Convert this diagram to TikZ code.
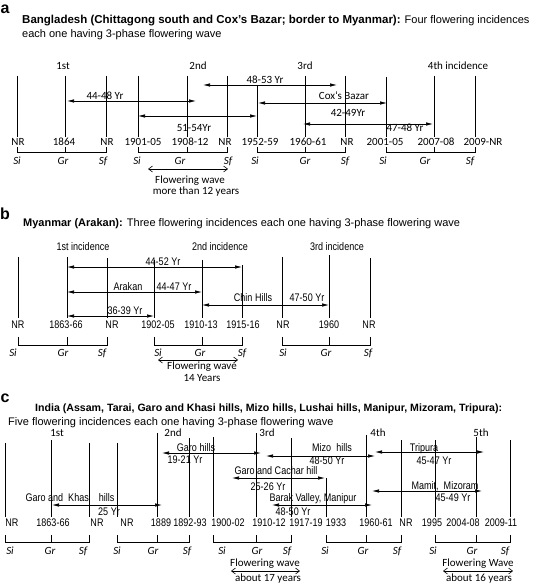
\documentclass[tikz,border=0pt]{standalone}
\usepackage{fontspec}
\setmainfont{Liberation Sans}
\newfontfamily\calfont{Carlito}
\newfontfamily\narrowfont[FakeStretch=0.82]{Liberation Sans}
\usetikzlibrary{arrows.meta}
\begin{document}
\begin{tikzpicture}[x=1pt,y=-1pt,
  vl/.style={line width=0.7pt},
  arr/.style={line width=0.7pt,{Latex[length=7pt,width=3.5pt]}-{Latex[length=7pt,width=3.5pt]}},
  wave/.style={line width=0.6pt,{Straight Barb[length=4pt,width=6pt]}-{Straight Barb[length=4pt,width=6pt]}},
  lab/.style={font=\calfont\fontsize{11}{12}\selectfont,inner sep=0pt,text height=7pt,text depth=0pt},
  nlab/.style={font=\narrowfont\fontsize{11}{12}\selectfont,inner sep=0pt,text height=7pt,text depth=0pt},
  ital/.style={font=\calfont\itshape\fontsize{11}{12}\selectfont,inner sep=0pt,text height=7pt,text depth=0pt},
  ttl/.style={font=\fontsize{11}{13}\selectfont,inner sep=0pt,anchor=west,text height=7.5pt,text depth=0pt},
  pl/.style={font=\bfseries\fontsize{16}{16}\selectfont,inner sep=0pt}]
\useasboundingbox[fill=white] (0,0) rectangle (550,585);

% ================= panel a =================
\node[pl] (pa) at (5,9) {a};
\node[ttl] (ta1) at (22,20) {{\bfseries\fontsize{11.5}{13}\selectfont Bangladesh (Chittagong south and Cox’s Bazar; border to Myanmar):} Four flowering incidences};
\node[ttl] (ta2) at (22,34) {each one having 3-phase flowering wave};

\foreach \x/\t in {17/76,65/76,106/76,138/76,187/76,227/76,257/85,305/76,345/76,386/77,434/76,475/76}
  \draw[vl] (\x,\t) -- (\x,137);
\foreach \x/\s in {18/NR,64/1864,107/NR,143/1901-05,190/1908-12,225/NR,260/1952-59,308/1960-61,347/NR,385/2001-05,436/2007-08,483/2009-NR}
  \node[lab] at (\x,142) {\s};
\foreach \a/\b/\c in {17/65/106,138/187/227,257/305/345,386/434/475}{
  \draw[vl] (\a,147) -- (\a,152) -- (\c,152) -- (\c,147);
  \draw[vl] (\b,147) -- (\b,152);}
\foreach \x/\s in {17/Si,63/Gr,103/Sf,137/Si,180/Gr,228/Sf,255/Si,305/Gr,345/Sf,383/Si,425/Gr,470/Sf}
  \node[ital] at (\x,161) {\s};

\node[lab] at (63,66) {1st};
\node[lab] at (198,66) {2nd};
\node[lab] at (305,66) {3rd};
\node[lab] at (458,66) {4th incidence};

\draw[arr] (67,101) -- (196,101);
\node[lab] at (105,96) {44-48 Yr};
\draw[arr] (203,85) -- (337,85);
\node[lab] at (265,80) {48-53 Yr};
\draw[arr] (258,103) -- (387,103);
\node[lab] at (344,96) {Cox‘s Bazar};
\node[lab] at (348,113) {42-49Yr};
\draw[arr] (138,116) -- (257,116);
\node[lab] at (194,128) {51-54Yr};
\draw[arr] (303,124) -- (433,124);
\node[lab] at (405,128) {47-48 Yr};

\draw[wave] (148,169) -- (228,169);
\node[lab] at (190,180) {Flowering wave};
\node[lab] at (196,191) {more than 12 years};

% ================= panel b =================
\node[pl] (pb) at (5,214) {b};
\node[ttl] (tb1) at (23,223) {\textbf{Myanmar (Arakan):} Three flowering incidences each one having 3-phase flowering wave};

\foreach \x/\t in {18/257,67/257,107/258,154/260,202/260,242/265,282/257,329/255,370/258}
  \draw[vl] (\x,\t) -- (\x,318);
\foreach \x/\s in {18/NR,66/1863-66,112/NR,158/1902-05,201/1910-13,243/1915-16,283/NR,329/1960,369/NR}
  \node[nlab] at (\x,325) {\s};
\foreach \a/\b/\c in {18/67/107,154/202/242,282/329/370}{
  \draw[vl] (\a,337) -- (\a,345) -- (\c,345) -- (\c,337);
  \draw[vl] (\b,337) -- (\b,345);}
\foreach \x/\s in {13/Si,63/Gr,102/Sf,158/Si,200/Gr,242/Sf,283/Si,326/Gr,368/Sf}
  \node[ital] at (\x,353) {\s};

\node[nlab] at (83,247) {1st incidence};
\node[nlab] at (220,247) {2nd incidence};
\node[nlab] at (337,247) {3rd incidence};

\draw[arr] (67,267) -- (242,267);
\node[nlab] at (163,262) {44-52 Yr};
\draw[arr] (67,292) -- (202,292);
\node[nlab] at (128,287) {Arakan};
\node[nlab] at (174,287) {44-47 Yr};
\draw[arr] (202,305) -- (329,305);
\node[nlab] at (253,298) {Chin Hills};
\node[nlab] at (307,298) {47-50 Yr};
\draw[arr] (67,316) -- (154,316);
\node[nlab] at (125,311) {36-39 Yr};

\draw[wave] (158,360) -- (238,360);
\node[lab] at (202,366) {Flowering wave};
\node[lab] at (202,378) {14 Years};

% ================= panel c =================
\node[pl] (pc) at (5,398) {c};
\node[ttl] (tc1) at (35,408) {{\bfseries\fontsize{10.6}{13}\selectfont India (Assam, Tarai, Garo and Khasi hills, Mizo hills, Lushai hills, Manipur, Mizoram, Tripura):}};
\node[ttl] (tc2) at (8,422) {Five flowering incidences each one having 3-phase flowering wave};

\foreach \x/\t in {5/443,51/440,89/443,117/443,157/433,189/438,213/437,256/433,291/438,326/478,366/435,401/440,435/440,476/437,510/440}
  \draw[vl] (\x,\t) -- (\x,517);
\foreach \x/\s in {12/NR,53/1863-66,97/NR,127/NR,161/1889,190/1892-93,228/1900-02,269/1910-12,306/1917-19,336/1933,376/1960-61,406/NR,432/1995,463/2004-08,501/2009-11}
  \node[nlab] at (\x,523) {\s};
\foreach \a/\b/\c in {5/51/89,117/157/189,213/256/291,326/366/401,435/476/510}{
  \draw[vl] (\a,535) -- (\a,542) -- (\c,542) -- (\c,535);
  \draw[vl] (\b,535) -- (\b,542);}
\foreach \x/\s in {10/Si,50/Gr,83/Sf,117/Si,153/Gr,187/Sf,222/Si,257/Gr,287/Sf,325/Si,363/Gr,397/Sf,433/Si,472/Gr,505/Sf}
  \node[ital] at (\x,551) {\s};

\node[lab] at (57,433) {1st};
\node[lab] at (173,433) {2nd};
\node[lab] at (267,433) {3rd};
\node[lab] at (378,433) {4th};
\node[lab] at (481,433) {5th};

\draw[arr] (162,453) -- (261,453);
\node[nlab] at (196,448) {Garo hills};
\node[nlab] at (185,460) {19-21 Yr};
\draw[arr] (266,456) -- (375,456);
\node[nlab] at (332,448) {Mizo~ hills};
\node[nlab] at (327,461) {48-50 Yr};
\draw[arr] (375,452) -- (484,452);
\node[nlab] at (424,448) {Tripura};
\node[nlab] at (434,461) {45-47 Yr};
\draw[arr] (232,478) -- (325,478);
\node[nlab] at (276,471) {Garo and Cachar hill};
\node[nlab] at (268,487) {25-26 Yr};
\draw[arr] (272,505) -- (372,505);
\node[nlab] at (313,498) {Barak Valley, Manipur};
\node[nlab] at (293,512) {48-50 Yr};
\draw[arr] (372,491) -- (482,491);
\node[nlab] at (445,486) {Mamit,~ Mizoram};
\node[nlab] at (453,498) {45-49 Yr};
\draw[arr] (52,505) -- (162,505);
\node[nlab] at (70,498) {Garo and~ Khas~~~ hills};
\node[nlab] at (109,512) {25 Yr};

\draw[wave] (231,571) -- (300,571);
\node[lab] at (265,563) {Flowering wave};
\node[lab] at (268,578) {about 17 years};
\draw[wave] (443,571) -- (513,571);
\node[lab] at (478,563) {Flowering Wave};
\node[lab] at (479,578) {about 16 years};
\end{tikzpicture}
\end{document}
